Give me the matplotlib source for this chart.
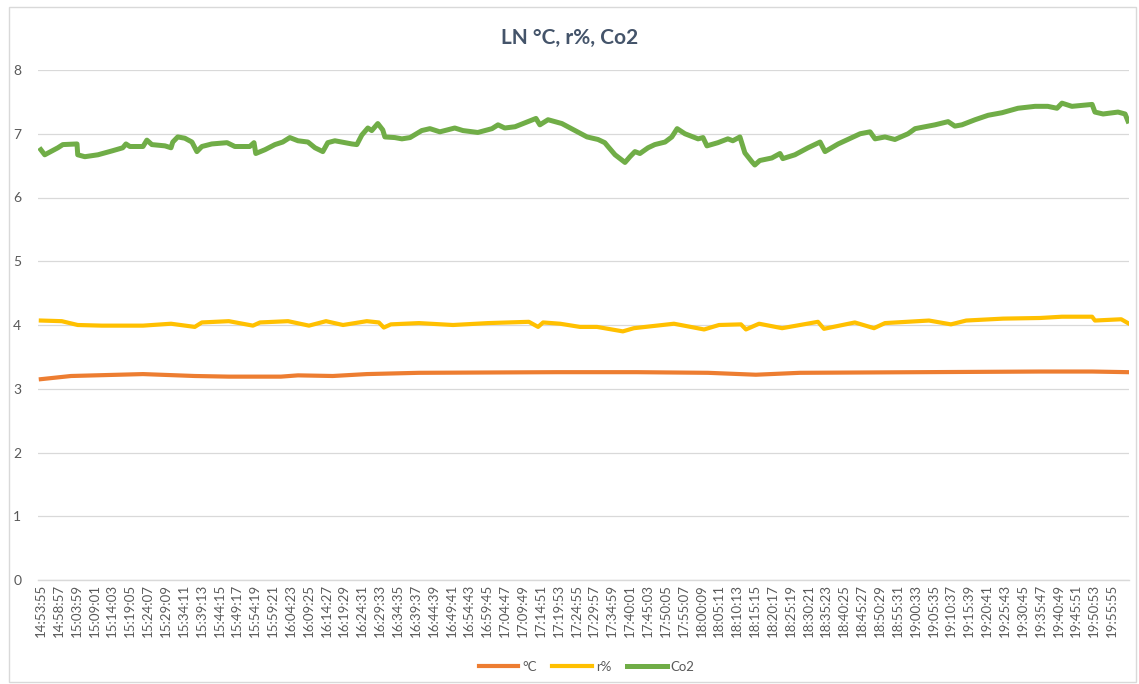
import matplotlib.pyplot as plt
from matplotlib.patches import Rectangle

# minutes after 14:53:55
co2_t = [0, 1.1, 4.8, 6.2, 10.2, 10.4, 12.4, 16.1, 20.0, 23.1, 24.0, 25.1, 28.8, 29.9,
         31.3, 35.0, 36.7, 37.2, 38.6, 40.6, 42.6, 44.0, 45.4, 48.2, 52.5, 54.7, 58.9,
         60.1, 60.6, 63.2, 66.0, 68.2, 70.2, 72.5, 75.3, 77.3, 79.5, 80.9, 82.9, 87.7,
         89.1, 90.5, 92.2, 93.3, 95.0, 96.4, 97.0, 99.8, 101.8, 104.1, 107.4, 109.7,
         112.5, 116.7, 119.0, 123.2, 127.2, 128.9, 130.8, 133.7, 137.3, 139.6, 140.7,
         143.0, 146.9, 150.6, 154.0, 157.1, 159.0, 159.9, 161.9, 164.7, 166.1, 167.5,
         168.9, 171.2, 173.1, 176.0, 177.9, 179.4, 181.6, 185.3, 186.7, 187.8, 190.9,
         193.7, 195.1, 197.1, 198.5, 200.5, 201.3, 202.7, 206.1, 208.4, 209.2, 212.6,
         216.3, 219.7, 221.1, 224.8, 228.7, 231.0, 233.8, 235.2, 238.0, 240.8, 244.5,
         246.5, 249.3, 252.1, 255.8, 257.7, 259.7, 263.4, 267.1, 271.0, 275.5, 280.3,
         283.9, 286.5, 287.9, 290.7, 296.4, 297.2, 299.5, 303.7, 305.7, 306.5]
co2 = [6.75, 6.67, 6.78, 6.83, 6.84, 6.67, 6.64, 6.67, 6.73, 6.78, 6.84, 6.80, 6.80, 6.90,
       6.83, 6.81, 6.78, 6.87, 6.95, 6.93, 6.87, 6.72, 6.80, 6.84, 6.86, 6.80, 6.80,
       6.86, 6.69, 6.75, 6.83, 6.87, 6.94, 6.89, 6.87, 6.78, 6.72, 6.86, 6.89, 6.84,
       6.83, 6.98, 7.09, 7.05, 7.16, 7.06, 6.95, 6.94, 6.92, 6.94, 7.05, 7.08,
       7.03, 7.09, 7.05, 7.02, 7.08, 7.14, 7.09, 7.11, 7.19, 7.24, 7.14,
       7.22, 7.16, 7.05, 6.95, 6.91, 6.86, 6.80, 6.67, 6.55, 6.64, 6.72,
       6.69, 6.78, 6.83, 6.87, 6.95, 7.08, 7.00, 6.92, 6.94, 6.81, 6.86,
       6.92, 6.89, 6.95, 6.70, 6.56, 6.51, 6.58, 6.62, 6.69, 6.61, 6.67,
       6.78, 6.87, 6.72, 6.84, 6.94, 7.00, 7.03, 6.92, 6.95, 6.91, 7.00,
       7.08, 7.11, 7.14, 7.19, 7.12, 7.14, 7.22, 7.29, 7.33, 7.40, 7.43,
       7.43, 7.40, 7.48, 7.43, 7.46, 7.34, 7.31, 7.34, 7.31, 7.20]

rh_t = [0, 5.9, 10.4, 17.2, 28.8, 36.7, 43.4, 45.4, 53.0, 59.8, 61.8, 69.7, 75.6, 80.4,
        85.2, 91.9, 95.3, 96.7, 98.7, 106.6, 116.2, 126.1, 137.6, 140.2, 141.6, 146.4,
        152.0, 156.8, 164.1, 167.2, 178.5, 187.0, 191.2, 197.4, 198.8, 202.5, 209.0,
        219.1, 220.8, 229.5, 234.9, 238.0, 250.4, 256.6, 260.9, 271.3, 281.7, 287.9,
        296.4, 297.2, 304.6, 306.5]
rh = [4.07, 4.06, 4.00, 3.99, 3.99, 4.02, 3.97, 4.04, 4.06, 3.99, 4.04, 4.06, 3.99, 4.06,
      4.00, 4.06, 4.04, 3.96, 4.01, 4.03, 4.00, 4.03, 4.05, 3.97, 4.04, 4.02,
      3.97, 3.97, 3.90, 3.95, 4.02, 3.93, 4.00, 4.01, 3.93, 4.02, 3.95,
      4.05, 3.94, 4.04, 3.95, 4.03, 4.07, 4.01, 4.07, 4.10, 4.11, 4.13,
      4.13, 4.07, 4.09, 4.03]

temp_t = [0, 8.5, 28.8, 43.4, 53.0, 67.7, 72.5, 82.3, 91.9, 106.6, 145.5, 168.0, 188.1,
          201.6, 214.0, 281.7, 296.4, 306.5]
temp = [3.15, 3.20, 3.23, 3.20, 3.19, 3.19, 3.21, 3.20, 3.23, 3.25, 3.26, 3.26, 3.25,
        3.22, 3.25, 3.27, 3.27, 3.26]

tick_labels = ["14:53:55", "14:58:57", "15:03:59", "15:09:01", "15:14:03", "15:19:05",
               "15:24:07", "15:29:09", "15:34:11", "15:39:13", "15:44:15", "15:49:17",
               "15:54:19", "15:59:21", "16:04:23", "16:09:25", "16:14:27", "16:19:29",
               "16:24:31", "16:29:33", "16:34:35", "16:39:37", "16:44:39", "16:49:41",
               "16:54:43", "16:59:45", "17:04:47", "17:09:49", "17:14:51", "17:19:53",
               "17:24:55", "17:29:57", "17:34:59", "17:40:01", "17:45:03", "17:50:05",
               "17:55:07", "18:00:09", "18:05:11", "18:10:13", "18:15:15", "18:20:17",
               "18:25:19", "18:30:21", "18:35:23", "18:40:25", "18:45:27", "18:50:29",
               "18:55:31", "19:00:33", "19:05:35", "19:10:37", "19:15:39", "19:20:41",
               "19:25:43", "19:30:45", "19:35:47", "19:40:49", "19:45:51", "19:50:53",
               "19:55:55"]

plt.rcParams['font.family'] = ['Lato', 'DejaVu Sans']

fig = plt.figure(figsize=(11.39, 6.84), dpi=100)
ax = fig.add_axes([38 / 1139, 104 / 684, 1091 / 1139, 510 / 684])

# chart border like excel
fig.patches.append(Rectangle((9 / 1139, 2 / 684), 1127 / 1139, 675 / 684,
                             transform=fig.transFigure, fill=False,
                             edgecolor='#d9d9d9', lw=1))

ax.plot(temp_t, temp, color='#ED7D31', lw=3.0, label='°C', solid_joinstyle='round')
ax.plot(rh_t, rh, color='#FFC000', lw=3.0, label='r%', solid_joinstyle='round')
ax.plot(co2_t, co2, color='#70AD47', lw=3.6, label='Co2', solid_joinstyle='round')

ax.set_ylim(0, 8)
ax.set_yticks(range(0, 9))
ax.set_xlim(-0.8, 306.8)
step = 302 / 60
ax.set_xticks([i * step for i in range(len(tick_labels))])
ax.set_xticklabels(tick_labels, rotation=90, fontsize=9.5, color='#595959')
ax.tick_params(axis='y', labelsize=10, labelcolor='#595959', length=0, pad=12)
ax.tick_params(axis='x', length=0, pad=3)

ax.grid(axis='y', color='#d9d9d9', lw=0.9)
ax.set_axisbelow(True)
for s in ['top', 'right', 'left']:
    ax.spines[s].set_visible(False)
ax.spines['bottom'].set_color('#d9d9d9')
ax.spines['bottom'].set_linewidth(1)

fig.text(0.5, 1 - 38 / 684, 'LN °C, r%, Co2', ha='center', va='center',
         fontsize=15, fontweight='bold', color='#44546A')

fig.legend(loc='center', bbox_to_anchor=(0.515, 1 - 667 / 684), ncol=3, frameon=False,
           fontsize=9.5, labelcolor='#595959', handlelength=3, columnspacing=1.2,
           handletextpad=0.3)

plt.savefig('out.png', dpi=100)
